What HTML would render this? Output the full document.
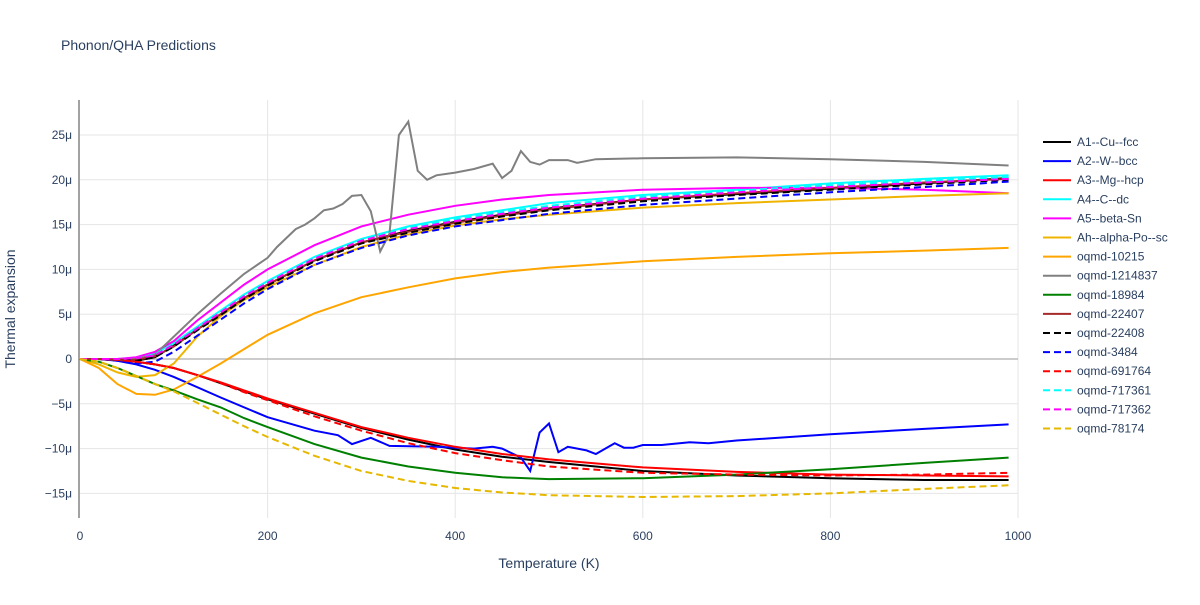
<!DOCTYPE html>
<html><head><meta charset="utf-8"><style>
body{margin:0;background:#fff;font-family:"Liberation Sans",sans-serif}
svg text{font-family:"Liberation Sans",sans-serif;fill:#2a3f5f}
</style></head><body>
<svg id="chart" width="1200" height="600" xmlns="http://www.w3.org/2000/svg">
<rect width="1200" height="600" fill="#fff"/>
<text x="61" y="50" font-size="14">Phonon/QHA Predictions</text>
<g id="grid"></g><g id="series"></g><g id="axes"></g><g id="legend"></g>
<text x="549" y="568" font-size="14" text-anchor="middle">Temperature (K)</text>
<text x="15" y="309" font-size="14" text-anchor="middle" transform="rotate(-90 15 309)">Thermal expansion</text>
</svg>
<script>
const xTicks=[0,200,400,600,800,1000];
const yTicks=[-15,-10,-5,0,5,10,15,20,25];
const yTickLabels=["−15μ","−10μ","−5μ","0","5μ","10μ","15μ","20μ","25μ"];
const Tstd=[0,20,40,60,80,100,125,150,175,200,250,300,350,400,450,500,600,700,800,900,990];
const Tgray=[0,20,40,60,80,100,125,150,175,200,210,220,230,240,250,260,270,280,290,300,310,320,330,340,350,360,370,380,400,420,440,450,460,470,480,490,500,520,530,550,600,700,800,900,990];
const grayVals=[0,0,-0.1,0,0.5,2.5,5,7.3,9.5,11.3,12.5,13.5,14.5,15,15.7,16.6,16.8,17.3,18.2,18.3,16.5,12,14,25,26.5,21,20,20.5,20.8,21.2,21.8,20.2,21,23.2,22,21.7,22.2,22.2,21.9,22.3,22.4,22.5,22.3,22,21.6];
const Tblue=[0,20,40,60,80,100,150,200,250,275,290,310,330,380,420,440,450,470,480,490,500,510,520,540,550,560,570,580,590,600,620,650,670,700,800,900,990];
const blueVals=[0,0,-0.2,-0.6,-1.2,-2,-4.3,-6.5,-8,-8.5,-9.5,-8.8,-9.7,-9.8,-10,-9.8,-10,-11,-12.5,-8.2,-7.2,-10.4,-9.8,-10.2,-10.6,-10,-9.4,-9.9,-9.9,-9.6,-9.6,-9.3,-9.4,-9.1,-8.4,-7.8,-7.3];
const A1pos=[0,0,-0.1,-0.2,0.2,1.5,3.3,5,6.8,8.3,11,13,14.3,15.3,16.1,16.8,17.8,18.4,19,19.6,20.2];
const A1neg=[0,0,-0.1,-0.3,-0.6,-1,-1.8,-2.7,-3.6,-4.5,-6.1,-7.7,-9,-10.1,-10.9,-11.5,-12.5,-13,-13.3,-13.5,-13.5];
const A3neg=[0,0,-0.1,-0.3,-0.6,-1,-1.8,-2.6,-3.5,-4.4,-6,-7.6,-8.8,-9.8,-10.6,-11.2,-12.1,-12.6,-12.9,-13,-13.1];
const A4vals=[0,0,0,0.1,0.6,1.8,3.6,5.4,7.2,8.7,11.4,13.4,14.8,15.8,16.6,17.4,18.3,18.9,19.6,20.1,20.5];
const A5vals=[0,0,0,0.2,0.8,2,4.3,6.3,8.3,10,12.7,14.8,16.1,17.1,17.8,18.3,18.9,19.1,19.1,18.9,18.5];
const Ahvals=[0,-0.6,-1.5,-2,-1.8,-0.5,2.5,4.8,6.6,8,10.5,12.5,13.9,14.9,15.6,16.1,16.9,17.4,17.8,18.2,18.5];
const o10215=[0,-1,-2.8,-3.9,-4,-3.4,-2,-0.5,1.1,2.7,5.1,6.9,8,9,9.7,10.2,10.9,11.4,11.8,12.1,12.4];
const o18984=[0,-0.3,-1,-1.9,-2.8,-3.5,-4.5,-5.4,-6.6,-7.6,-9.5,-11,-12,-12.7,-13.2,-13.4,-13.3,-12.9,-12.3,-11.6,-11];
const o22407=[0,0,-0.1,-0.1,0.3,1.4,3.3,5,6.8,8.3,11,13,14.2,15.2,16,16.7,17.8,18.5,19.1,19.7,20.1];
const o22408=[0,0,-0.1,-0.2,0.2,1.4,3.2,4.9,6.7,8.2,10.9,12.9,14.1,15.1,15.9,16.6,17.6,18.3,18.9,19.5,20];
const o3484=[0,0,-0.2,-0.5,-0.3,0.8,2.6,4.4,6.2,7.8,10.5,12.4,13.8,14.8,15.5,16.2,17.2,17.9,18.6,19.2,19.8];
const o691764=[0,0,-0.1,-0.3,-0.6,-1,-1.8,-2.7,-3.7,-4.6,-6.4,-8,-9.4,-10.5,-11.3,-12,-12.7,-12.9,-13,-12.9,-12.7];
const o717361=[0,0,0,0.1,0.5,1.7,3.5,5.3,7.1,8.6,11.3,13.3,14.6,15.6,16.4,17.1,18.1,18.8,19.4,19.9,20.3];
const o717362=[0,0,0,0.1,0.4,1.6,3.4,5.2,7,8.5,11.2,13.2,14.5,15.4,16.2,16.9,17.9,18.6,19.2,19.7,20.1];
const o78174=[0,-0.3,-1,-1.9,-2.8,-3.6,-4.9,-6.2,-7.5,-8.7,-10.8,-12.5,-13.6,-14.4,-14.9,-15.2,-15.4,-15.3,-15,-14.5,-14.1];
const X=t=>80+t*0.938, Y=v=>359-v*8.96;
const NS="http://www.w3.org/2000/svg";
function mk(tag,attrs,parent){const e=document.createElementNS(NS,tag);for(const k in attrs)e.setAttribute(k,attrs[k]);parent.appendChild(e);return e;}
const grid=document.getElementById('grid'),axes=document.getElementById('axes'),ser=document.getElementById('series'),leg=document.getElementById('legend');
xTicks.forEach(t=>{if(t>0){const l=mk('line',{x1:X(t),x2:X(t),y1:100,y2:518,stroke:'#e5e5e5'},grid);}
 const tx=mk('text',{x:X(t),y:540,'font-size':12,'text-anchor':'middle'},axes);tx.textContent=t;});
yTicks.forEach((v,i)=>{const l=mk('line',{x1:80,x2:1018,y1:Y(v),y2:Y(v),stroke:v===0?'#bbb':'#e5e5e5','stroke-width':v===0?1.5:1},grid);
 const tx=mk('text',{x:72,y:Y(v)+4,'font-size':12,'text-anchor':'end'},axes);tx.textContent=yTickLabels[i];});
const ax=mk('line',{x1:79,x2:79,y1:100,y2:518,stroke:'#444'},axes);
const series=[
 ['A1--Cu--fcc','#000',0,[[Tstd,A1pos],[Tstd,A1neg]]],
 ['A2--W--bcc','#0000ff',0,[[Tblue,blueVals]]],
 ['A3--Mg--hcp','#ff0000',0,[[Tstd,A3neg]]],
 ['A4--C--dc','#00ffff',0,[[Tstd,A4vals]]],
 ['A5--beta-Sn','#ff00ff',0,[[Tstd,A5vals]]],
 ['Ah--alpha-Po--sc','#f0b400',0,[[Tstd,Ahvals]]],
 ['oqmd-10215','#ffa500',0,[[Tstd,o10215]]],
 ['oqmd-1214837','#808080',0,[[Tgray,grayVals]]],
 ['oqmd-18984','#008000',0,[[Tstd,o18984]]],
 ['oqmd-22407','#a52a2a',0,[[Tstd,o22407]]],
 ['oqmd-22408','#000',1,[[Tstd,o22408]]],
 ['oqmd-3484','#0000ff',1,[[Tstd,o3484]]],
 ['oqmd-691764','#ff0000',1,[[Tstd,o691764]]],
 ['oqmd-717361','#00ffff',1,[[Tstd,o717361]]],
 ['oqmd-717362','#ff00ff',1,[[Tstd,o717362]]],
 ['oqmd-78174','#e6b800',1,[[Tstd,o78174]]]];
series.forEach((s,i)=>{
 s[3].forEach(([ts,vs])=>{const d=ts.map((t,j)=>(j?'L':'M')+X(t).toFixed(1)+' '+Y(vs[j]).toFixed(1)).join(' ');
  const p=mk('path',{d:d,fill:'none',stroke:s[1],'stroke-width':2,'stroke-dasharray':s[2]?'7,4':'none'},ser);
  });
 const y=142+i*19.1;
 const g=mk('g',{},leg);
 
 
 mk('line',{x1:1043,x2:1071,y1:y,y2:y,stroke:s[1],'stroke-width':2,'stroke-dasharray':s[2]?'7,4':'none'},g);
 const t=mk('text',{x:1077,y:y+4,'font-size':12},g);t.textContent=s[0];
});
</script>
</body></html>
